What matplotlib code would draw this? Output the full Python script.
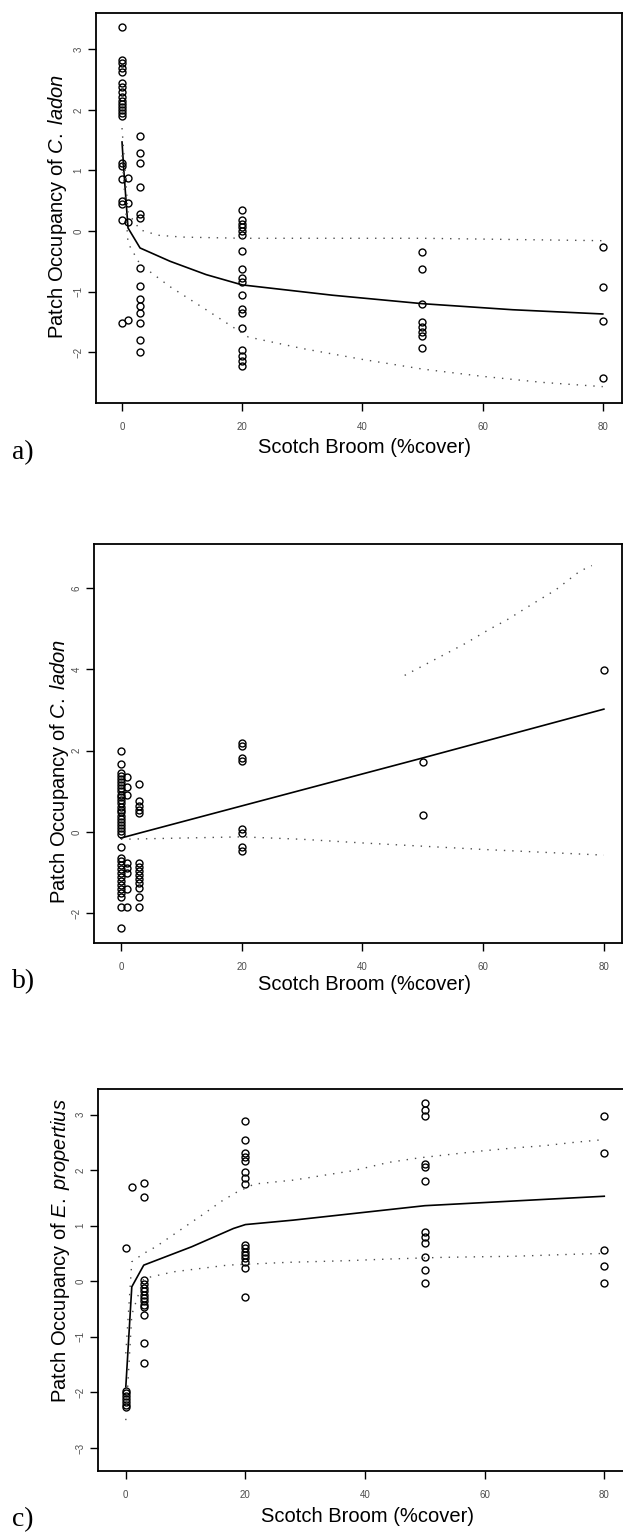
''' Patch occupancy vs Scotch broom cover, three panels (a, b, c). '''

import matplotlib
matplotlib.use('Agg')
import matplotlib.pyplot as plt

# --- data ---------------------------------------------------------------

# a) C. ladon
cover_a = [0, 1, 3, 20, 50, 80]
occ_a = [
    [3.37, 2.82, 2.77, 2.70, 2.62, 2.44, 2.38, 2.30, 2.22, 2.15, 2.10,
     2.05, 2.00, 1.95, 1.90, 1.12, 1.07, 0.86, 0.50, 0.45, 0.18, -1.52],
    [0.88, 0.47, 0.15, -1.47],
    [1.57, 1.29, 1.12, 0.73, 0.28, 0.22, -0.61, -0.90, -1.13, -1.24,
     -1.35, -1.52, -1.80, -2.00],
    [0.35, 0.18, 0.12, 0.06, 0.00, -0.06, -0.33, -0.63, -0.78, -0.85,
     -1.06, -1.29, -1.35, -1.60, -1.96, -2.06, -2.15, -2.23],
    [-0.35, -0.63, -1.20, -1.50, -1.58, -1.66, -1.74, -1.94],
    [-0.27, -0.93, -1.49, -2.43],
]
fit_x_a = [0, 0.3, 1, 3, 8, 14, 20, 35, 50, 65, 80]
fit_a = [1.47, 1.00, 0.05, -0.28, -0.50, -0.72, -0.89, -1.06, -1.20, -1.30, -1.37]
up_x_a = [0, 1, 3, 6, 10, 20, 35, 50, 65, 80]
up_a = [1.70, 0.30, 0.02, -0.07, -0.10, -0.12, -0.12, -0.12, -0.14, -0.16]
lo_x_a = [0, 1, 3, 8, 14, 21, 30, 40, 50, 60, 70, 80]
lo_a = [1.25, -0.20, -0.55, -0.92, -1.30, -1.75, -1.94, -2.12, -2.28, -2.40, -2.50, -2.57]

# b) C. ladon
cover_b = [0, 1, 3, 20, 50, 80]
occ_b = [
    [1.98, 1.68, 1.45, 1.38, 1.30, 1.22, 1.15, 1.08, 1.00, 0.92, 0.85,
     0.78, 0.70, 0.62, 0.55, 0.48, 0.40, 0.32, 0.25, 0.18, 0.10, 0.02,
     -0.05, -0.37, -0.63, -0.72, -0.80, -0.90, -1.00, -1.10, -1.20,
     -1.30, -1.40, -1.50, -1.60, -1.85, -2.35],
    [1.35, 1.10, 0.90, -0.76, -0.88, -1.00, -1.40, -1.85],
    [1.17, 0.76, 0.63, 0.55, 0.46, -0.76, -0.85, -0.95, -1.05, -1.15,
     -1.25, -1.37, -1.60, -1.85],
    [2.18, 2.12, 1.82, 1.74, 0.07, -0.03, -0.37, -0.46],
    [1.72, 0.41],
    [3.98],
]
fit_x_b = [0, 3, 20, 50, 80]
fit_b = [-0.15, -0.03, 0.64, 1.82, 3.02]
up_x_b = [47, 52, 57, 61, 64, 68, 72, 76, 78]
up_b = [3.85, 4.24, 4.63, 4.98, 5.22, 5.59, 5.95, 6.41, 6.55]
lo_x_b = [0, 20, 30, 40, 50, 60, 70, 80]
lo_b = [-0.18, -0.12, -0.18, -0.27, -0.35, -0.43, -0.50, -0.57]

# c) E. propertius
cover_c = [0, 1, 3, 20, 50, 80]
occ_c = [
    [0.59, -1.97, -2.02, -2.07, -2.12, -2.17, -2.22, -2.27],
    [1.69],
    [1.77, 1.51, 0.02, -0.05, -0.12, -0.18, -0.24, -0.30, -0.36, -0.42,
     -0.46, -0.61, -1.11, -1.47],
    [2.88, 2.54, 2.31, 2.24, 2.17, 1.96, 1.85, 1.75, 0.65, 0.59, 0.53,
     0.47, 0.41, 0.35, 0.23, -0.28],
    [3.21, 3.08, 2.97, 2.11, 2.06, 1.81, 0.89, 0.79, 0.69, 0.43, 0.20, -0.04],
    [2.97, 2.31, 0.57, 0.27, -0.04],
]
fit_x_c = [0, 1, 3, 11, 18, 20, 28, 50, 80]
fit_c = [-1.90, -0.10, 0.29, 0.62, 0.95, 1.02, 1.10, 1.36, 1.53]
up_x_c = [0, 1, 3, 5, 13, 16, 18.5, 21.5, 28, 38, 44, 49, 59, 65, 70, 75, 80]
up_c = [-1.30, 0.35, 0.50, 0.62, 1.21, 1.44, 1.60, 1.75, 1.82, 1.99, 2.14,
        2.22, 2.34, 2.40, 2.44, 2.50, 2.55]
lo_x_c = [0, 1, 3, 8, 17, 27, 37, 44, 53, 65, 76, 80]
lo_c = [-2.50, -0.60, 0.05, 0.17, 0.29, 0.34, 0.37, 0.40, 0.43, 0.45, 0.49, 0.50]

x_ticks = [0, 20, 40, 60, 80]
x_label = 'Scotch Broom (%cover)'

W, H = 623, 1535

plt.rcParams['font.family'] = ['Liberation Sans', 'DejaVu Sans']
plt.rcParams['mathtext.fontset'] = 'custom'
plt.rcParams['mathtext.rm'] = 'Liberation Sans'
plt.rcParams['mathtext.it'] = 'Liberation Sans:italic'


def px_axes(fig, left, right, top, bottom):
    ''' Add an axes given its frame in image pixels. '''
    return fig.add_axes([left / W, 1 - bottom / H, (right - left) / W, (bottom - top) / H])


def draw_panel(ax, cover, occ, fit, upper, lower, xlim, ylim, yticks,
               ylabel, xlab_pos, ylab_pos):
    for xc, ys in zip(cover, occ):
        ax.plot([xc] * len(ys), ys, 'o', ms=5, mfc='none', mec='black', mew=1.0)

    ax.plot(fit[0], fit[1], '-', color='black', lw=1.2)
    dots = (0, (1, 5))
    ax.plot(upper[0], upper[1], color='0.3', lw=1.0, ls=dots)
    ax.plot(lower[0], lower[1], color='0.3', lw=1.0, ls=dots)

    ax.set_xlim(*xlim)
    ax.set_ylim(*ylim)
    ax.set_xticks(x_ticks)
    ax.set_yticks(yticks)
    ax.tick_params(direction='out', length=6, width=1, labelsize=7,
                   labelcolor='0.3')
    ax.tick_params(axis='x', pad=8)
    ax.tick_params(axis='y', pad=3)
    for lab in ax.get_yticklabels():
        lab.set_rotation(90)
        lab.set_va('center')
    for sp in ax.spines.values():
        sp.set_linewidth(1.3)

    ax.set_xlabel(x_label, fontsize=14.5)
    ax.set_ylabel(ylabel, fontsize=14.5)
    ax.xaxis.label.set_va('center')
    ax.yaxis.label.set_va('center')
    ax.xaxis.set_label_coords(*xlab_pos)
    ax.yaxis.set_label_coords(*ylab_pos)


def main():
    fig = plt.figure(figsize=(W / 100, H / 100), dpi=100)

    ax_a = px_axes(fig, 96, 622, 13, 403)
    draw_panel(ax_a, cover_a, occ_a, (fit_x_a, fit_a), (up_x_a, up_a), (lo_x_a, lo_a),
               (-4.33, 83.2), (-2.84, 3.6), [-2, -1, 0, 1, 2, 3],
               r'Patch Occupancy of $\it{C.\ ladon}$', (0.511, -0.113), (-0.074, 0.505))

    ax_b = px_axes(fig, 94, 622, 544, 943)
    draw_panel(ax_b, cover_b, occ_b, (fit_x_b, fit_b), (up_x_b, up_b), (lo_x_b, lo_b),
               (-4.46, 83.0), (-2.73, 7.08), [-2, 0, 2, 4, 6],
               r'Patch Occupancy of $\it{C.\ ladon}$', (0.513, -0.105), (-0.066, 0.43))

    ax_c = px_axes(fig, 98, 624, 1089, 1471)
    draw_panel(ax_c, cover_c, occ_c, (fit_x_c, fit_c), (up_x_c, up_c), (lo_x_c, lo_c),
               (-4.65, 83.3), (-3.415, 3.46), [-3, -2, -1, 0, 1, 2, 3],
               r'Patch Occupancy of $\it{E.\ propertius}$', (0.512, -0.12), (-0.071, 0.576))

    # panel letters
    for letter, ypx in [('a)', 453), ('b)', 982), ('c)', 1520)]:
        fig.text(12 / W, 1 - ypx / H, letter, family='Liberation Serif',
                 fontsize=20, ha='left', va='center')

    fig.savefig('out.png', dpi=100)


if __name__ == '__main__':
    main()
